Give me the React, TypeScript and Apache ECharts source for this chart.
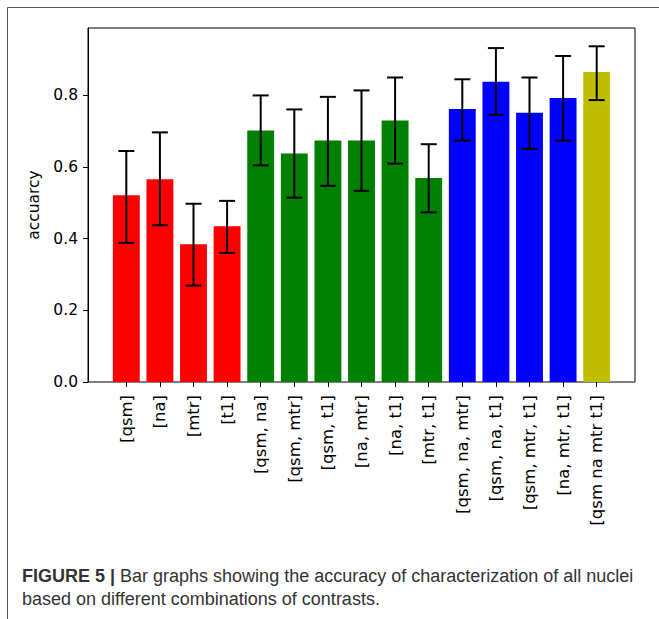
import React, { useEffect, useRef } from "react";
import * as echarts from "echarts";

const categories = [
  "[qsm]", "[na]", "[mtr]", "[t1]",
  "[qsm, na]", "[qsm, mtr]", "[qsm, t1]", "[na, mtr]", "[na, t1]", "[mtr, t1]",
  "[qsm, na, mtr]", "[qsm, na, t1]", "[qsm, mtr, t1]", "[na, mtr, t1]",
  "[qsm na mtr t1]",
];
const accuracy = [0.521, 0.565, 0.384, 0.434, 0.701, 0.637, 0.673, 0.673, 0.729, 0.569, 0.761, 0.837, 0.751, 0.792, 0.864];
const errLow = [0.388, 0.437, 0.269, 0.360, 0.604, 0.514, 0.547, 0.533, 0.609, 0.473, 0.673, 0.745, 0.650, 0.673, 0.786];
const errHigh = [0.644, 0.696, 0.497, 0.505, 0.799, 0.760, 0.795, 0.813, 0.849, 0.663, 0.844, 0.931, 0.849, 0.909, 0.936];
const barColors = [
  "#ff0000", "#ff0000", "#ff0000", "#ff0000",
  "#008000", "#008000", "#008000", "#008000", "#008000", "#008000",
  "#0000ff", "#0000ff", "#0000ff", "#0000ff",
  "#bfbf00",
];
const yTicks = [0, 0.2, 0.4, 0.6, 0.8];
const Y_MAX = 0.987;
const captionBold = "FIGURE 5 |";
const captionLine1 = " Bar graphs showing the accuracy of characterization of all nuclei";
const captionLine2 = "based on different combinations of contrasts.";

const FONT = "'DejaVu Sans', sans-serif";
const CAP_FONT = "'Liberation Sans', Arial, sans-serif";

export default function App() {
  const ref = useRef<HTMLDivElement>(null);
  useEffect(() => {
    if (!ref.current) return;
    const chart = echarts.init(ref.current, null, { renderer: "svg" });
    const option: any = {
      animation: false,
      backgroundColor: "#fff",
      grid: [
        { left: 88, top: 28, width: 547, height: 354, show: true, borderColor: "#000", borderWidth: 1, backgroundColor: "transparent" },
        { left: 109.5, top: 28, width: 504, height: 354 },
      ],
      xAxis: [
        { gridIndex: 0, type: "value", min: 0, max: 1, show: false },
        {
          gridIndex: 1,
          type: "category",
          data: categories,
          axisLine: { show: false },
          axisTick: { show: true, alignWithLabel: true, length: 5, lineStyle: { color: "#000", width: 1 } },
          axisLabel: { rotate: 90, interval: 0, margin: 13, color: "#000", fontFamily: FONT, fontSize: 16.5 },
          splitLine: { show: false },
        },
      ],
      yAxis: [
        {
          gridIndex: 0,
          type: "value",
          min: 0,
          max: Y_MAX,
          axisLine: { show: true, lineStyle: { color: "#000", width: 1 } },
          axisTick: { show: true, length: 5, customValues: yTicks, lineStyle: { color: "#000" } },
          axisLabel: { customValues: yTicks, formatter: (v: number) => v.toFixed(1), color: "#000", fontFamily: FONT, fontSize: 15.5, margin: 10 },
          splitLine: { show: false },
          name: "accuarcy",
          nameLocation: "middle",
          nameGap: 44,
          nameTextStyle: { color: "#000", fontFamily: FONT, fontSize: 15.5 },
        },
        { gridIndex: 1, type: "value", min: 0, max: Y_MAX, show: false, splitLine: { show: false } },
      ],
      series: [
        {
          type: "bar",
          xAxisIndex: 1,
          yAxisIndex: 1,
          barWidth: "80%",
          data: accuracy.map((v, i) => ({ value: v, itemStyle: { color: barColors[i] } })),
        },
        {
          type: "custom",
          xAxisIndex: 1,
          yAxisIndex: 1,
          data: categories.map((_, i) => [i, errLow[i], errHigh[i]]),
          encode: { x: 0, y: [1, 2] },
          renderItem: (params: any, api: any) => {
            const x = api.value(0);
            const lo = api.coord([x, api.value(1)]);
            const hi = api.coord([x, api.value(2)]);
            const cap = 8;
            const style = { stroke: "#000", lineWidth: 2 };
            return {
              type: "group",
              children: [
                { type: "line", shape: { x1: lo[0], y1: lo[1], x2: hi[0], y2: hi[1] }, style },
                { type: "line", shape: { x1: hi[0] - cap, y1: hi[1], x2: hi[0] + cap, y2: hi[1] }, style },
                { type: "line", shape: { x1: lo[0] - cap, y1: lo[1], x2: lo[0] + cap, y2: lo[1] }, style },
              ],
            };
          },
          z: 5,
        },
      ],
      graphic: [
        { type: "polyline", shape: { points: [[7.5, 619], [7.5, 7.5], [659, 7.5]] }, style: { stroke: "#555", lineWidth: 1, fill: null } },
        {
          type: "text",
          x: 22,
          y: 576,
          style: {
            text: "{b|" + captionBold + "}{r|" + captionLine1 + "}",
            verticalAlign: "middle",
            rich: {
              b: { fontFamily: CAP_FONT, fontSize: 18, fontWeight: "bold", fill: "#333" },
              r: { fontFamily: CAP_FONT, fontSize: 18, fill: "#333" },
            },
          },
        },
        {
          type: "text",
          x: 22,
          y: 599,
          style: { text: captionLine2, fontFamily: CAP_FONT, fontSize: 18, fill: "#333", verticalAlign: "middle" },
        },
      ],
    };
    chart.setOption(option);
    return () => chart.dispose();
  }, []);
  return <div ref={ref} style={{ position: "absolute", left: 0, top: 0, width: 659, height: 619 }} />;
}
